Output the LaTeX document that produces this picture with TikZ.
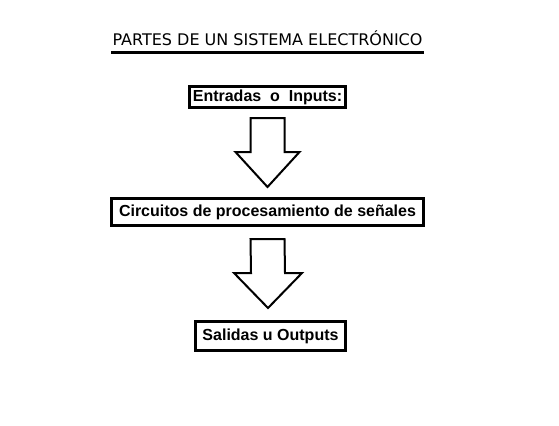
\documentclass[tikz,border=0pt]{standalone}
\usepackage{fontspec}
\setmainfont{Liberation Sans}
\newfontfamily\titlefont{DejaVu Sans}
\usetikzlibrary{calc}

\tikzset{
  partbox/.style={draw,line width=2.25pt,inner sep=0pt,font=\fontsize{12}{14}\selectfont\bfseries},
  blockarrow/.style={draw,line width=1.5pt,line join=miter}
}

\begin{document}
\begin{tikzpicture}[x=0.75pt,y=0.75pt,yscale=-1,xscale=1]
\useasboundingbox (0,0) rectangle (559,425);

% Text Node
\node (title) [anchor=base,inner sep=0pt,font=\titlefont\fontsize{12}{14}\selectfont] at (267.5,45) {PARTES DE UN SISTEMA ELECTRÓNICO};
%Straight Lines
\draw [line width=1.8pt] ($(title.base west)+(-1,7.5)$) -- ($(title.base east)+(1,7.5)$);

% Boxes
\node (inp) [partbox,minimum width=117pt,minimum height=15.75pt] at (267.5,97) {Entradas\ \ o\ \ Inputs:};
\node (proc) [partbox,minimum width=234pt,minimum height=20.25pt] at (267.5,212) {Circuitos\ de\ procesamiento\ de\ señales};
\node (outp) [partbox,minimum width=112.5pt,minimum height=21.75pt] at (270.5,336) {Salidas u Outputs};

% arrow ends
\coordinate (a1top) at ($(inp.south)+(0,9)$);
\coordinate (a1tip) at ($(proc.north)+(0,-10)$);
\coordinate (a2top) at ($(proc.south)+(0,12)$);
\coordinate (a2tip) at ($(outp.north)+(-2.5,-12)$);

%Shape: Block Arrow
\draw [blockarrow] ($(a1top)+(-17,0)$) -- ($(a1top)+(17,0)$) -- ($(a1tip)+(17,-35)$) -- ($(a1tip)+(32,-35)$) -- (a1tip) -- ($(a1tip)+(-32,-35)$) -- ($(a1tip)+(-17,-35)$) -- cycle;
%Shape: Block Arrow
\draw [blockarrow] ($(a2top)+(-17,0)$) -- ($(a2top)+(17,0)$) -- ($(a2tip)+(17,-35)$) -- ($(a2tip)+(34,-35)$) -- (a2tip) -- ($(a2tip)+(-34,-35)$) -- ($(a2tip)+(-17,-35)$) -- cycle;

\end{tikzpicture}
\end{document}
